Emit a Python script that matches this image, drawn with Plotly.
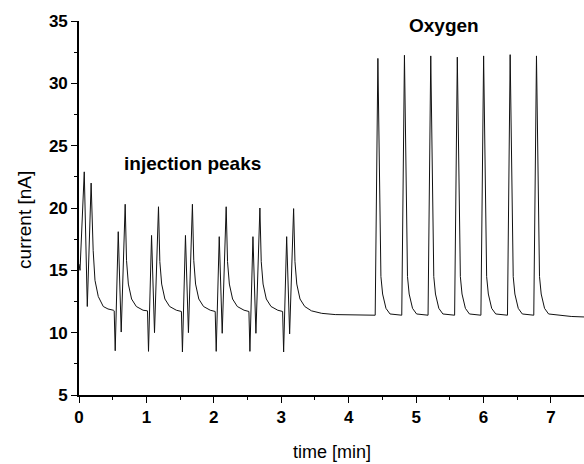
import plotly.graph_objects as go

# ---- data ----
# start of recording + six injection cycles (time in min, current in nA)
inj_time = [
    0.000, 0.015, 0.078, 0.123, 0.180, 0.210, 0.237, 0.286, 0.360, 0.430, 0.510, 0.522,
    0.537, 0.582, 0.626, 0.685, 0.705, 0.732, 0.780, 0.850, 0.950, 1.016,
    1.031, 1.076, 1.120, 1.179, 1.199, 1.226, 1.274, 1.344, 1.444, 1.519,
    1.534, 1.579, 1.623, 1.682, 1.702, 1.729, 1.777, 1.847, 1.947, 2.020,
    2.035, 2.080, 2.124, 2.183, 2.203, 2.230, 2.278, 2.348, 2.448, 2.520,
    2.535, 2.580, 2.624, 2.683, 2.703, 2.730, 2.778, 2.848, 2.948, 3.020,
    3.035, 3.080, 3.124, 3.183, 3.203, 3.230, 3.278, 3.348, 3.448, 3.600, 3.800, 4.100,
]
inj_current = [
    15.5, 15.0, 22.9, 12.1, 22.0, 16.6, 14.2, 12.9, 12.1, 11.9, 11.8, 11.75,
    8.55, 18.1, 10.05, 20.3, 15.8, 13.9, 12.7, 12.1, 11.8, 11.75,
    8.5, 17.8, 10.0, 20.1, 15.7, 13.9, 12.7, 12.1, 11.8, 11.7,
    8.45, 17.8, 10.0, 20.3, 15.8, 13.9, 12.7, 12.1, 11.8, 11.7,
    8.5, 17.7, 9.95, 20.1, 15.7, 13.9, 12.7, 12.1, 11.8, 11.7,
    8.5, 17.7, 9.95, 20.0, 15.7, 13.9, 12.7, 12.1, 11.8, 11.7,
    8.45, 17.7, 9.9, 19.95, 15.7, 13.9, 12.7, 12.1, 11.75, 11.55, 11.45, 11.4,
]

# oxygen pulses
oxy_time = [
    4.393, 4.433, 4.448, 4.463, 4.478, 4.503, 4.553, 4.613,
    4.787, 4.827, 4.842, 4.857, 4.872, 4.897, 4.947, 5.007,
    5.177, 5.217, 5.232, 5.247, 5.262, 5.287, 5.337, 5.397,
    5.571, 5.611, 5.626, 5.641, 5.656, 5.681, 5.731, 5.791,
    5.961, 6.001, 6.016, 6.031, 6.046, 6.071, 6.121, 6.181,
    6.355, 6.395, 6.410, 6.425, 6.440, 6.465, 6.515, 6.575,
    6.745, 6.785, 6.800, 6.815, 6.830, 6.855, 6.905, 6.965,
    7.100, 7.300, 7.490,
]
oxy_current = [
    11.4, 32.0, 25.0, 18.2, 14.5, 13.1, 11.95, 11.5,
    11.4, 32.25, 25.0, 18.2, 14.5, 13.1, 11.95, 11.5,
    11.4, 32.2, 25.0, 18.2, 14.5, 13.1, 11.95, 11.5,
    11.4, 32.1, 25.0, 18.2, 14.5, 13.1, 11.95, 11.5,
    11.4, 32.2, 25.0, 18.2, 14.5, 13.1, 11.95, 11.5,
    11.4, 32.3, 25.0, 18.2, 14.5, 13.1, 11.95, 11.5,
    11.4, 32.2, 25.0, 18.2, 14.5, 13.1, 11.95, 11.5,
    11.4, 11.3, 11.26,
]

x_ticks = [0, 1, 2, 3, 4, 5, 6, 7]
y_ticks = [5, 10, 15, 20, 25, 30, 35]

time_min = inj_time + oxy_time
current_nA = inj_current + oxy_current

fig = go.Figure()
fig.add_trace(go.Scatter(
    x=time_min, y=current_nA, mode="lines",
    line=dict(color="#111111", width=1),
    hoverinfo="skip", showlegend=False,
))

tickfont = dict(family="Liberation Sans, Arial, sans-serif", size=17, color="black")
fig.update_layout(
    width=584, height=464,
    margin=dict(l=79, r=0, t=21, b=69),
    paper_bgcolor="white", plot_bgcolor="white",
    font=dict(family="Liberation Sans, Arial, sans-serif", color="black"),
    xaxis=dict(
        range=[0, 7.49], tickmode="array", tickvals=x_ticks,
        ticktext=[f"<b>{v}</b>" for v in x_ticks],
        ticks="outside", ticklen=6, tickwidth=1.3, tickcolor="black",
        minor=dict(dtick=0.5, tick0=0, ticks="outside", ticklen=3, tickwidth=1.2, tickcolor="black"),
        showline=True, linecolor="black", linewidth=1.6,
        showgrid=False, zeroline=False, tickfont=tickfont,
    ),
    yaxis=dict(
        range=[5, 35], tickmode="array", tickvals=y_ticks,
        ticktext=[f"<b>{v}</b>" for v in y_ticks],
        ticks="outside", ticklen=6, tickwidth=1.3, tickcolor="black",
        minor=dict(dtick=2.5, tick0=0, ticks="outside", ticklen=3, tickwidth=1.2, tickcolor="black"),
        showline=True, linecolor="black", linewidth=1.6,
        showgrid=False, zeroline=False, tickfont=tickfont,
    ),
    annotations=[
        dict(text="time [min]", xref="paper", yref="paper", x=0.5, y=-0.152,
             xanchor="center", yanchor="middle", showarrow=False,
             font=dict(size=18)),
        dict(text="current [nA]", xref="paper", yref="paper", x=-0.107, y=0.468,
             xanchor="center", yanchor="middle", showarrow=False, textangle=-90,
             font=dict(size=19)),
        dict(text="<b>injection peaks</b>", xref="x", yref="y", x=1.69, y=23.6,
             xanchor="center", yanchor="middle", showarrow=False,
             font=dict(size=19)),
        dict(text="<b>Oxygen</b>", xref="x", yref="y", x=5.42, y=34.65,
             xanchor="center", yanchor="middle", showarrow=False,
             font=dict(size=19)),
    ],
)

fig.write_html("out.html")
